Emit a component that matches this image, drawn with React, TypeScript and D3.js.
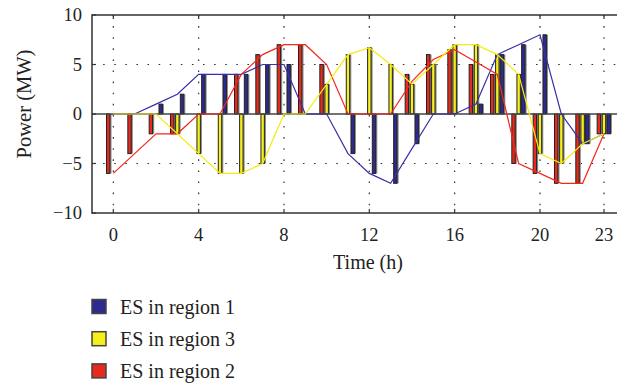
import * as d3 from "d3";

const hours = [0, 1, 2, 3, 4, 5, 6, 7, 8, 9, 10, 11, 12, 13, 14, 15, 16, 17, 18, 19, 20, 21, 22, 23];
const xTicks = [0, 4, 8, 12, 16, 20, 23];
const yTicks = [-10, -5, 0, 5, 10];

// bar values (MW)
const region1Bars = [0, 0, 1, 2, 4, 4, 4, 5, 5, 0, 0, -4, -6, -7, -3, 0, 0, 1, 6, 7, 8, 0, -3, -2];
const region3Bars = [0, 0, 0, -2, -4, -6, -6, -5, 0, 0, 3, 6, 6.7, 5, 3, 5, 7, 7, 6, 4, -4, -5, -3, -2];
const region2Bars = [-6, -4, -2, -2, 0, 0, 4, 6, 7, 7, 5, 0, 0, 0, 4, 6, 6.5, 5, 4, -5, -6, -7, -7, -2];

// line values (MW)
const region1Line = [0, 0, 1, 2, 4, 4, 4, 5, 5, 0, 0, -4, -6, -7, -3.5, 0, 0, 1, 6, 7, 8, 0, -3, -2];
const region3Line = [0, 0, 0, -2, -4, -6, -6, -5, 0, 0, 3, 6, 6.7, 5, 3, 5, 7, 7, 6, 4, -4, -5, -3, -2];
const region2Line = [-6, -4, -2, -2, 0, 0, 4, 6, 7, 7, 5, 0, 0, 0, 3.3, 5.5, 6.5, 5.25, 4, -5, -6, -7, -7, -2];

const bars = [
  { key: "r2", values: region2Bars, fill: "#e8291c", offset: -0.24 },
  { key: "r3", values: region3Bars, fill: "#f6ef1c", offset: 0 },
  { key: "r1", values: region1Bars, fill: "#2e2a8f", offset: 0.22 },
];

const lines = [
  { key: "l1", values: region1Line, color: "#3a2fa8" },
  { key: "l2", values: region2Line, color: "#f2281c" },
  { key: "l3", values: region3Line, color: "#f4ec10" },
];

const legend = [
  { label: "ES in region 1", fill: "#2e2a8f" },
  { label: "ES in region 3", fill: "#f6ef1c" },
  { label: "ES in region 2", fill: "#e8291c" },
];

const W = 617;
const H = 387;
const left = 92;
const top = 15;
const bottom = 213;

export default function App() {
  const x = d3.scaleLinear().domain([-1, 24]).range([left, 625.3]);
  const y = d3.scaleLinear().domain([-10, 10]).range([bottom, top]);
  const right = x(24);
  const barW = 3.4;
  const font = "'Liberation Serif', 'Times New Roman', serif";

  const line = d3
    .line<number>()
    .x((_, i) => x(hours[i]))
    .y((d) => y(d));

  return (
    <svg
      width={W}
      height={H}
      style={{ position: "absolute", left: 0, top: 0, background: "#fff" }}
      fontFamily={font}
    >
      {/* grid */}
      {xTicks.map((t) => (
        <line
          key={"gx" + t}
          x1={x(t)}
          x2={x(t)}
          y1={top}
          y2={bottom}
          stroke="#333"
          strokeWidth={1.2}
          strokeDasharray="1.6,9.5"
        />
      ))}
      {[-5, 5].map((t) => (
        <line
          key={"gy" + t}
          x1={left}
          x2={right}
          y1={y(t)}
          y2={y(t)}
          stroke="#333"
          strokeWidth={1.2}
          strokeDasharray="1.6,9.5"
        />
      ))}

      {/* bars */}
      {hours.map((h, i) =>
        bars.map((b) => {
          const v = b.values[i];
          if (v === 0) return null;
          const cx = x(h + b.offset);
          const y0 = Math.min(y(v), y(0));
          const hh = Math.abs(y(v) - y(0));
          return (
            <g key={b.key + h}>
              <rect x={cx - barW / 2 + 1.6} y={y0} width={barW} height={hh} fill="#8a8a8a" />
              <rect
                x={cx - barW / 2}
                y={y0}
                width={barW}
                height={hh}
                fill={b.fill}
                stroke="#222"
                strokeWidth={1}
              />
            </g>
          );
        })
      )}

      {/* zero line */}
      <line x1={left} x2={right} y1={y(0)} y2={y(0)} stroke="#444" strokeWidth={1.3} />

      {/* lines */}
      {lines.map((l) => (
        <path key={l.key} d={line(l.values) || ""} fill="none" stroke={l.color} strokeWidth={1.2} />
      ))}

      {/* frame */}
      <rect x={left} y={top} width={right - left} height={bottom - top} fill="none" stroke="#333" strokeWidth={1.5} />

      {/* ticks */}
      {yTicks.map((t) => (
        <g key={"yt" + t}>
          <line x1={left} x2={left + 4} y1={y(t)} y2={y(t)} stroke="#333" strokeWidth={1.2} />
          <text x={82} y={y(t)} dy="0.35em" textAnchor="end" fontSize={18.5} fill="#222">
            {t < 0 ? "\u2212" + Math.abs(t) : t}
          </text>
        </g>
      ))}
      {xTicks.map((t) => (
        <g key={"xt" + t}>
          <line x1={x(t)} x2={x(t)} y1={bottom} y2={bottom - 4} stroke="#333" strokeWidth={1.2} />
          <line x1={x(t)} x2={x(t)} y1={top} y2={top + 4} stroke="#333" strokeWidth={1.2} />
          <text x={x(t)} y={241} textAnchor="middle" fontSize={18.5} fill="#222">
            {t}
          </text>
        </g>
      ))}

      {/* axis titles */}
      <text x={368} y={269} textAnchor="middle" fontSize={20} fill="#222">
        Time (h)
      </text>
      <text
        transform={`translate(31,${(top + bottom) / 2 - 10}) rotate(-90)`}
        textAnchor="middle"
        fontSize={20.5}
        fill="#222"
      >
        Power (MW)
      </text>

      {/* legend */}
      {legend.map((d, i) => {
        const cy = 306.5 + i * 32.2;
        return (
          <g key={d.label}>
            <rect x={92} y={cy - 7} width={14} height={14} fill={d.fill} stroke="#444" strokeWidth={1.5} />
            <text x={120} y={cy} dy="0.35em" fontSize={20} fill="#222">
              {d.label}
            </text>
          </g>
        );
      })}
    </svg>
  );
}
